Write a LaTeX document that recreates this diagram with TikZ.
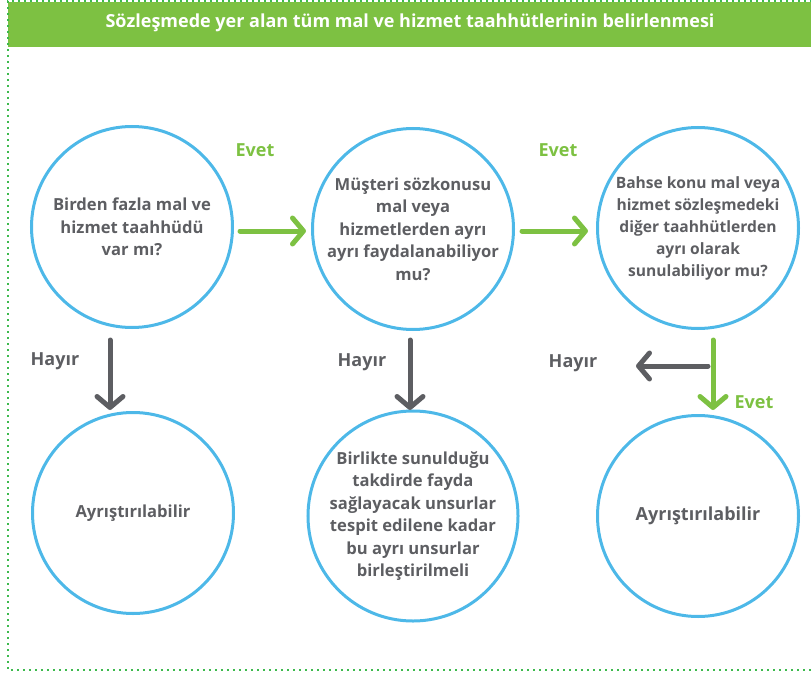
\documentclass[tikz,border=0pt]{standalone}
\usepackage{fontspec}
\IfFontExistsTF{Open Sans SemiBold}{%
  \setmainfont{Open Sans}[BoldFont={Open Sans SemiBold}]
  \newcommand{\qsize}{17.2}}{%
  \setmainfont{Open Sans}
  \newcommand{\qsize}{16.6}}
\usetikzlibrary{arrows.meta}
\definecolor{bandgreen}{HTML}{7DC142}
\definecolor{dotgreen}{HTML}{3DBA4E}
\definecolor{arrgreen}{HTML}{7DC142}
\definecolor{circblue}{HTML}{4DB8E8}
\definecolor{txtgray}{HTML}{5D5E62}
\tikzset{
  qcircle/.style={circle, draw=circblue, line width=3pt, minimum size=201pt, inner sep=0pt,
    text=txtgray, font=\fontsize{\qsize}{22.5}\selectfont\bfseries, align=center},
  yesarrow/.style={draw=arrgreen, line width=5pt, line cap=round,
    -{Straight Barb[round,length=11pt,width=26pt]}},
  noarrow/.style={draw=txtgray, line width=5pt, line cap=round,
    -{Straight Barb[round,length=11pt,width=26pt]}},
  yeslabel/.style={text=arrgreen, font=\fontsize{18}{20}\selectfont\bfseries},
  nolabel/.style={text=txtgray, font=\fontsize{18}{20}\selectfont\bfseries},
}
\begin{document}
\begin{tikzpicture}[x=1pt,y=-1pt]
\useasboundingbox (0,0) rectangle (811,674);
% header band
\fill[bandgreen] (8,2) rectangle (811,47);
\node[text=white, font=\fontsize{18}{20}\selectfont\bfseries] (title) at (410,23) {Sözleşmede yer alan tüm mal ve hizmet taahhütlerinin belirlenmesi};
% dotted frame
\draw[dotgreen, line width=2.5pt, dash pattern=on 2pt off 4pt] (830,1) -- (8,1) -- (8,670) -- (830,670);
% circles
\node[qcircle] (c1) at (132,227) {Birden fazla mal ve\\hizmet taahhüdü\\var mı?};
\node[qcircle] (c2) at (413,229) {Müşteri sözkonusu\\mal veya\\hizmetlerden ayrı\\ayrı faydalanabiliyor\\mu?};
\node[qcircle, font=\fontsize{15.6}{22}\selectfont\bfseries] (c3) at (698,228) {Bahse konu mal veya\\hizmet sözleşmedeki\\diğer taahhütlerden\\ayrı olarak\\sunulabiliyor mu?};
\node[qcircle] (c4) at (133,513) {Ayrıştırılabilir};
\node[qcircle] (c5) at (413,516) {Birlikte sunulduğu\\takdirde fayda\\sağlayacak unsurlar\\tespit edilene kadar\\bu ayrı unsurlar\\birleştirilmeli};
\node[qcircle, font=\fontsize{18}{22}\selectfont\bfseries] (c6) at (698,516) {Ayrıştırılabilir};
% coordinates for arrows
\coordinate (a1s) at (240,231); \coordinate (a1e) at (306,231);
\coordinate (a2s) at (522,231); \coordinate (a2e) at (588,231);
\coordinate (d1s) at (110,340); \coordinate (d1e) at (110,410);
\coordinate (d2s) at (410,340); \coordinate (d2e) at (410,410);
\coordinate (d3s) at (713,340); \coordinate (d3e) at (713,410);
\coordinate (l1s) at (708,366); \coordinate (l1e) at (636,366);
\draw[yesarrow] (a1s) -- (a1e);
\draw[yesarrow] (a2s) -- (a2e);
\draw[noarrow] (d1s) -- (d1e);
\draw[noarrow] (d2s) -- (d2e);
\draw[noarrow] (l1s) -- (l1e);
\draw[yesarrow] (d3s) -- (d3e);
% labels
\node[yeslabel] (e1) at (255,150) {Evet};
\node[yeslabel] (e2) at (558,150) {Evet};
\node[yeslabel] (e3) at (754,402) {Evet};
\node[nolabel] (h1) at (55,361) {Hayır};
\node[nolabel] (h2) at (362,362) {Hayır};
\node[nolabel] (h3) at (573,363) {Hayır};
\end{tikzpicture}
\end{document}
